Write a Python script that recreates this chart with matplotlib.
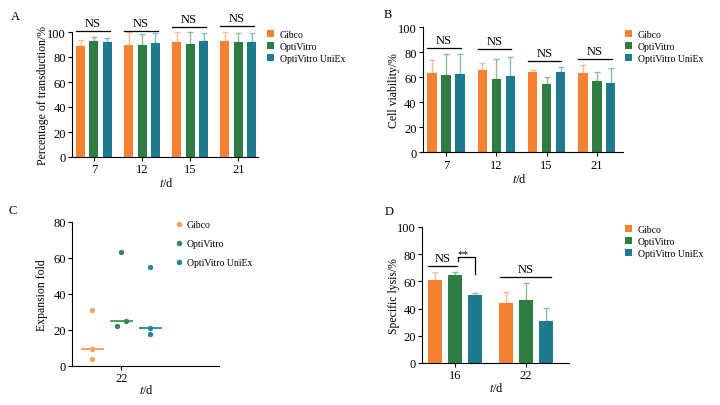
import numpy as np
import matplotlib
matplotlib.use("Agg")
import matplotlib.pyplot as plt
from matplotlib.patches import Patch
from matplotlib.lines import Line2D

plt.rcParams['font.family'] = ['Liberation Serif', 'DejaVu Serif']
plt.rcParams['mathtext.fontset'] = 'stix'

# ---------------- data ----------------
groups = ["Gibco", "OptiVitro", "OptiVitro UniEx"]

# A: percentage of transduction
days_a = ["7", "12", "15", "21"]
a_gibco = [88.5, 89.6, 91.7, 92.5]
a_opti = [92.5, 89.6, 90.4, 91.7]
a_uniex = [92.0, 91.2, 93.0, 92.0]
a_gibco_sd = [5.4, 10.4, 8.3, 7.5]
a_opti_sd = [3.5, 8.8, 9.6, 7.5]
a_uniex_sd = [3.2, 8.0, 6.5, 7.5]
a_sig = ["NS", "NS", "NS", "NS"]
a_sig_y = [100.8, 100.8, 103.7, 104.8]

# B: cell viability
days_b = ["7", "12", "15", "21"]
b_gibco = [63.5, 65.6, 64.0, 63.5]
b_opti = [62.1, 58.7, 54.9, 57.1]
b_uniex = [62.9, 61.3, 64.3, 55.5]
b_gibco_sd = [10.4, 5.6, 2.1, 6.6]
b_opti_sd = [16.6, 15.7, 5.1, 6.9]
b_uniex_sd = [15.8, 14.7, 3.7, 11.7]
b_sig = ["NS", "NS", "NS", "NS"]
b_sig_y = [83.5, 82.7, 72.8, 74.4]

# C: expansion fold at day 22
day_c = "22"
c_gibco = [31.0, 9.6, 3.9]
c_opti = [63.5, 24.8, 22.3]
c_uniex = [55.2, 21.3, 17.8]
c_jitter = [[0, 0, 0], [0, 0.16, -0.16], [0, 0, 0]]

# D: specific lysis
days_d = ["16", "22"]
d_gibco = [61.3, 44.4]
d_opti = [64.5, 46.1]
d_uniex = [49.8, 30.9]
d_gibco_sd = [5.6, 8.1]
d_opti_sd = [2.2, 12.5]
d_uniex_sd = [1.9, 9.8]

# ---------------- style ----------------
bar_colors = ["#F38233", "#2F7C42", "#1E7A8F"]
err_colors = ["#F8BC90", "#92BA9E", "#8BBAC6"]
dot_colors = ["#F2A36A", "#3A8756", "#2B8596"]
line_colors = ["#F2A36A", "#4C9E66", "#2F90A8"]

W, H = 720, 406
fig = plt.figure(figsize=(W / 100, H / 100), dpi=100)


def px_axes(x0, y_top, x1, y_bot):
    return fig.add_axes([x0 / W, 1 - y_bot / H, (x1 - x0) / W, (y_bot - y_top) / H])


def style_axes(ax):
    for s in ["top", "right"]:
        ax.spines[s].set_visible(False)
    for s in ["left", "bottom"]:
        ax.spines[s].set_linewidth(0.8)
    ax.tick_params(direction="out", length=3, width=0.8, labelsize=9, pad=1.5)


def bar_panel(ax, cats, series, sds, offset, width, ylim):
    x = np.arange(len(cats))
    for i, (vals, sd) in enumerate(zip(series, sds)):
        xi = x + (i - 1) * offset
        ax.errorbar(xi, vals, yerr=[np.zeros(len(vals)), sd], fmt="none",
                    ecolor=err_colors[i], elinewidth=1.0, capsize=2.5, capthick=1.0,
                    zorder=1, clip_on=False)
        ax.bar(xi, vals, width, color=bar_colors[i], zorder=2, label=groups[i])
    ax.set_xticks(x)
    ax.set_xticklabels(cats)
    ax.set_ylim(*ylim)
    ax.set_yticks(np.arange(0, 101, 20))
    style_axes(ax)
    return x


def sig_line(ax, x1, x2, y, text, fs=9):
    ax.plot([x1, x2], [y, y], color="black", lw=0.9, clip_on=False)
    ax.annotate(text, xy=((x1 + x2) / 2, y), xytext=(0, 1.5), textcoords="offset points",
                ha="center", va="bottom", fontsize=fs, annotation_clip=False)


def legend_bars(x, y):
    handles = [Patch(facecolor=c, edgecolor="none") for c in bar_colors]
    fig.legend(handles, groups, loc="upper left", bbox_to_anchor=(x / W, 1 - y / H),
               frameon=False, fontsize=7, handlelength=0.7, handleheight=0.7,
               handletextpad=0.6, labelspacing=0.32, borderpad=0, borderaxespad=0)


xlabel = r"$t$/d"

# ---------------- A ----------------
axA = px_axes(72, 33, 258, 158)
offA, wA = 0.277, 0.187
xA = bar_panel(axA, days_a, [a_gibco, a_opti, a_uniex],
               [a_gibco_sd, a_opti_sd, a_uniex_sd], offA, wA, (0, 100))
axA.set_xlim(-0.457, 3.41)
for xi, t, y in zip(xA, a_sig, a_sig_y):
    sig_line(axA, xi - offA - wA / 2, xi + offA + wA * 0.25, y, t)
axA.set_ylabel("Percentage of transduction/%", fontsize=8.5)
axA.yaxis.set_label_coords(-0.125, 0.5)
axA.set_xlabel(xlabel, fontsize=9)
axA.xaxis.set_label_coords(0.51, -0.15)
legend_bars(267, 31)

# ---------------- B ----------------
axB = px_axes(423, 28.3, 623, 153.3)
offB, wB = 0.278, 0.185
xB = bar_panel(axB, days_b, [b_gibco, b_opti, b_uniex],
               [b_gibco_sd, b_opti_sd, b_uniex_sd], offB, wB, (0, 100))
axB.set_xlim(-0.457, 3.52)
for xi, t, y in zip(xB, b_sig, b_sig_y):
    sig_line(axB, xi - offB - wB / 2, xi + offB + wB * 0.1, y, t)
axB.set_ylabel("Cell viability/%", fontsize=8.5)
axB.yaxis.set_label_coords(-0.115, 0.5)
axB.set_xlabel(xlabel, fontsize=9)
axB.xaxis.set_label_coords(0.485, -0.16)
legend_bars(625, 31)

# ---------------- C ----------------
axC = px_axes(72, 223, 219, 367)
c_series = [c_gibco, c_opti, c_uniex]
for i, vals in enumerate(c_series):
    xs = i + np.array(c_jitter[i])
    axC.scatter(xs, vals, s=15, color=dot_colors[i], zorder=3, linewidths=0,
                label=groups[i])
    med = np.median(vals)
    axC.plot([i - 0.37, i + 0.37], [med, med], color=line_colors[i], lw=1.4, zorder=2)
axC.set_xlim(-0.70, 4.37)
axC.set_ylim(0, 80)
axC.set_yticks(np.arange(0, 81, 20))
axC.set_xticks([1])
axC.set_xticklabels([day_c])
style_axes(axC)
axC.set_ylabel("Expansion fold", fontsize=8.5)
axC.yaxis.set_label_coords(-0.16, 0.5)
axC.set_xlabel(xlabel, fontsize=9)
axC.xaxis.set_label_coords(0.51, -0.12)
hC = [Line2D([0], [0], marker="o", color="none", markerfacecolor=c, markeredgecolor="none",
             markersize=4) for c in dot_colors]
fig.legend(hC, groups, loc="upper left", bbox_to_anchor=(176 / W, 1 - 221 / H),
           frameon=False, fontsize=7, handlelength=0.6, handletextpad=0.5,
           labelspacing=1.05, borderpad=0, borderaxespad=0)

# ---------------- D ----------------
axD = px_axes(422, 228, 569, 364)
offD, wD = 0.277, 0.197
xD = bar_panel(axD, days_d, [d_gibco, d_opti, d_uniex],
               [d_gibco_sd, d_opti_sd, d_uniex_sd], offD, wD, (0, 100))
axD.set_xlim(-0.465, 1.606)
# NS between Gibco and OptiVitro at day 16
sig_line(axD, xD[0] - offD - wD / 2, xD[0] + 0.03, 71.6, "NS")
# ** bracket between OptiVitro and UniEx at day 16
bx1, bx2 = xD[0] + 0.04, xD[0] + offD
axD.plot([bx1, bx1, bx2, bx2], [74.8, 77.9, 77.9, 65.7], color="black", lw=0.9,
         clip_on=False)
axD.text(xD[0] + 0.11, 80.5, "**", ha="center", va="center", fontsize=8)
# NS across day 22
sig_line(axD, xD[1] - offD - wD / 2 + 0.01, xD[1] + offD + 0.07, 63.0, "NS")
axD.set_ylabel("Specific lysis/%", fontsize=8.5)
axD.yaxis.set_label_coords(-0.15, 0.5)
axD.set_xlabel(xlabel, fontsize=9)
axD.xaxis.set_label_coords(0.51, -0.13)
legend_bars(625, 226)

# panel letters
for letter, (x, y) in zip("ABCD", [(15, 17), (388, 15), (13, 211), (389, 212)]):
    fig.text(x / W, 1 - y / H, letter, fontsize=9, ha="center", va="center")

fig.savefig("out.png", dpi=100)
